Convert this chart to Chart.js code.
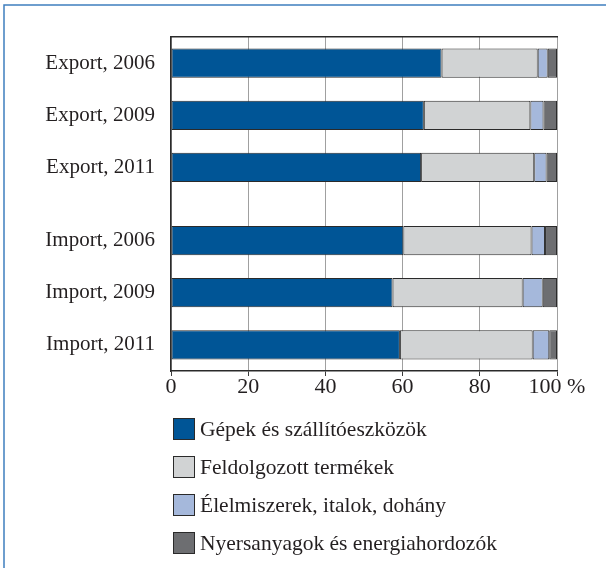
<!DOCTYPE html>
<html>
<head>
<meta charset="utf-8">
<script src="https://cdn.jsdelivr.net/npm/chart.js@4/dist/chart.umd.min.js"></script>
<style>
  html, body { margin: 0; padding: 0; background: #fff; }
  #wrap { width: 606px; height: 568px; }
</style>
</head>
<body>
<div id="wrap"><canvas id="chart" width="606" height="568"></canvas></div>
<script>
const categories = ["Export, 2006", "Export, 2009", "Export, 2011", "Import, 2006", "Import, 2009", "Import, 2011"];
const machinery = [70.1, 65.5, 64.8, 60.2, 57.4, 59.3];
const manufactured = [24.9, 27.6, 29.3, 33.2, 33.7, 34.4];
const food = [2.6, 3.4, 3.2, 3.5, 5.2, 4.3];
const rawMaterials = [2.4, 3.5, 2.7, 3.1, 3.7, 2.0];
const seriesNames = ["Gépek és szállítóeszközök", "Feldolgozott termékek", "Élelmiszerek, italok, dohány", "Nyersanyagok és energiahordozók"];
const xTicks = [0, 20, 40, 60, 80, 100];

const FONT = "'Liberation Serif', 'Times New Roman', serif";
const INK = "#231f20";

// rows sit one unit apart, the import block is pushed down a bit further
const GROUP_GAP = 0.4;
const rowPos = categories.map((c, i) => i + (i >= 3 ? GROUP_GAP : 0));

function series(values) {
  return values.map((v, i) => ({ x: v, y: rowPos[i] }));
}

const colors = ["#005596", "#d1d3d4", "#a5b8db", "#6d6e71"];
const datasets = [machinery, manufactured, food, rawMaterials].map((vals, k) => ({
  label: seriesNames[k],
  data: series(vals),
  backgroundColor: colors[k],
  borderColor: "#2a2a2a",
  borderWidth: 1,
  borderSkipped: false,
  barPercentage: 0.56,
  categoryPercentage: 1,
}));

// blue frame along the top and left edge
const framePlugin = {
  id: "frame",
  beforeDraw(chart) {
    const ctx = chart.ctx;
    ctx.save();
    ctx.strokeStyle = "#3f7fbf";
    ctx.lineWidth = 1.5;
    ctx.beginPath();
    ctx.moveTo(4, chart.height);
    ctx.lineTo(4, 5);
    ctx.lineTo(chart.width, 5);
    ctx.stroke();
    ctx.restore();
  },
};

// single-column legend under the axis
const columnLegend = {
  id: "columnLegend",
  afterDraw(chart) {
    const ctx = chart.ctx;
    const area = chart.chartArea;
    ctx.save();
    ctx.font = "21.5px " + FONT;
    ctx.textBaseline = "middle";
    ctx.textAlign = "left";
    chart.data.datasets.forEach((ds, i) => {
      const cy = area.bottom + 58 + i * 38;
      const x = area.left + 2;
      ctx.fillStyle = ds.backgroundColor;
      ctx.fillRect(x, cy - 11, 22, 22);
      ctx.strokeStyle = "#2a2a2a";
      ctx.lineWidth = 1;
      ctx.strokeRect(x + 0.5, cy - 10.5, 21, 21);
      ctx.fillStyle = INK;
      ctx.fillText(ds.label, x + 27, cy + 1);
    });
    ctx.restore();
  },
};

new Chart(document.getElementById("chart"), {
  type: "bar",
  data: { datasets },
  plugins: [framePlugin, columnLegend],
  options: {
    indexAxis: "y",
    responsive: false,
    animation: false,
    layout: { padding: { top: 37, left: 10, right: 49, bottom: 165 } },
    plugins: {
      legend: { display: false },
      tooltip: { enabled: false },
    },
    scales: {
      x: {
        type: "linear",
        stacked: true,
        min: 0,
        max: 100,
        afterBuildTicks(scale) {
          scale.ticks = xTicks.map((v) => ({ value: v }));
        },
        afterFit(scale) {
          scale.height = 32;
        },
        grid: {
          color: "#a0a0a0",
          lineWidth: 1,
          tickLength: 5,
          tickColor: "#3a3a3a",
        },
        border: { display: true, color: "#2a2a2a", width: 1.5 },
        ticks: {
          color: INK,
          font: { family: FONT, size: 22, lineHeight: 1 },
          padding: 0,
          maxRotation: 0,
          callback: (v) => (v === 100 ? "100 %" : String(v)),
        },
      },
      xTop: {
        type: "linear",
        position: "top",
        min: 0,
        max: 100,
        grid: { display: false },
        ticks: { display: false },
        border: { display: true, color: "#2a2a2a", width: 1.5 },
        afterFit(scale) {
          scale.height = 0;
        },
      },
      y: {
        type: "linear",
        stacked: true,
        reverse: true,
        offset: false,
        min: -0.5,
        max: rowPos[rowPos.length - 1] + 0.5,
        afterBuildTicks(scale) {
          scale.ticks = rowPos.map((v) => ({ value: v }));
        },
        afterFit(scale) {
          scale.width = 161;
        },
        grid: { display: false, offset: false },
        border: { display: true, color: "#2a2a2a", width: 1.5 },
        ticks: {
          autoSkip: false,
          color: INK,
          padding: 8,
          font: { family: FONT, size: 21, lineHeight: 1 },
          callback: (v, i) => categories[i],
        },
      },
    },
  },
});
</script>
</body>
</html>
